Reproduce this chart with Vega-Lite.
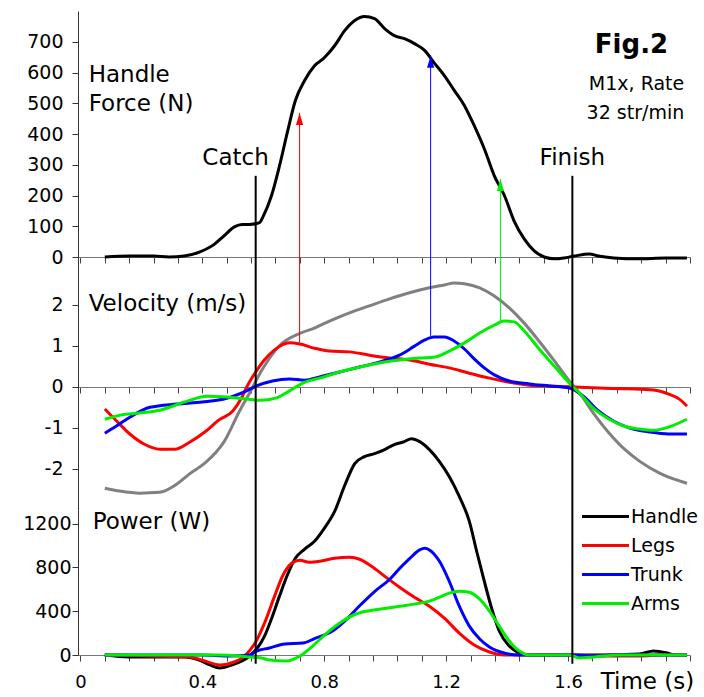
{
  "$schema": "https://vega.github.io/schema/vega-lite/v6.json",
  "padding": {"left": 8, "top": 10, "right": 0, "bottom": 0},
  "background": "white",
  "spacing": 0,
  "bounds": "flush",
  "config": {
    "view": {"stroke": null},
    "font": "DejaVu Sans",
    "axis": {"labelFont": "DejaVu Sans", "labelFontSize": 18, "labelColor": "black", "grid": false, "tickColor": "#444", "domainColor": "#777", "tickSize": 6, "labelPadding": 3, "labelOverlap": false, "tickCount": 100},
    "axisY": {"minExtent": 70, "maxExtent": 70, "tickSize": 6, "labelPadding": 9, "labelFontSize": 19, "domainColor": "#333", "tickColor": "#333", "labelOverlap": false, "labelExpr": "datum.value < 0 ? '-' + abs(datum.value) : '' + datum.value"},
    "text": {"font": "DejaVu Sans", "color": "black"}
  },
  "resolve": {"scale": {"color": "independent"}},
  "datasets": {
    "force": [
      {"t":0.08,"F":0},{"t":0.16,"F":3},{"t":0.24,"F":3},{"t":0.29,"F":0},{"t":0.34,"F":3},{"t":0.39,"F":16},{"t":0.44,"F":42},{"t":0.47,"F":68},{"t":0.505,"F":98},{"t":0.53,"F":106},{"t":0.555,"F":106},{"t":0.588,"F":112},{"t":0.6,"F":133},{"t":0.627,"F":200},{"t":0.653,"F":296},{"t":0.68,"F":410},{"t":0.705,"F":508},{"t":0.735,"F":573},{"t":0.768,"F":622},{"t":0.8,"F":648},{"t":0.834,"F":687},{"t":0.867,"F":736},{"t":0.9,"F":769},{"t":0.932,"F":782},{"t":0.965,"F":775},{"t":0.998,"F":743},{"t":1.03,"F":720},{"t":1.063,"F":710},{"t":1.096,"F":694},{"t":1.13,"F":671},{"t":1.16,"F":632},{"t":1.194,"F":590},{"t":1.227,"F":541},{"t":1.26,"F":492},{"t":1.292,"F":427},{"t":1.325,"F":352},{"t":1.358,"F":264},{"t":1.391,"F":200},{"t":1.423,"F":117},{"t":1.456,"F":59},{"t":1.489,"F":20},{"t":1.522,"F":0},{"t":1.555,"F":-6},{"t":1.587,"F":-3},{"t":1.62,"F":3},{"t":1.67,"F":10},{"t":1.7,"F":3},{"t":1.75,"F":-3},{"t":1.83,"F":-6},{"t":1.92,"F":-3},{"t":1.99,"F":-3}
    ],
    "vel": [
      {"series":"Handle","t":0.08,"v":-2.47},{"series":"Handle","t":0.129,"v":-2.54},{"series":"Handle","t":0.195,"v":-2.59},{"series":"Handle","t":0.26,"v":-2.57},{"series":"Handle","t":0.31,"v":-2.4},{"series":"Handle","t":0.358,"v":-2.12},{"series":"Handle","t":0.408,"v":-1.86},{"series":"Handle","t":0.472,"v":-1.33},{"series":"Handle","t":0.522,"v":-0.59},{"series":"Handle","t":0.555,"v":-0.15},{"series":"Handle","t":0.594,"v":0.39},{"series":"Handle","t":0.653,"v":1.0},{"series":"Handle","t":0.72,"v":1.3},{"series":"Handle","t":0.768,"v":1.43},{"series":"Handle","t":0.817,"v":1.6},{"series":"Handle","t":0.883,"v":1.8},{"series":"Handle","t":0.948,"v":1.97},{"series":"Handle","t":1.014,"v":2.14},{"series":"Handle","t":1.08,"v":2.29},{"series":"Handle","t":1.145,"v":2.41},{"series":"Handle","t":1.194,"v":2.48},{"series":"Handle","t":1.227,"v":2.53},{"series":"Handle","t":1.26,"v":2.51},{"series":"Handle","t":1.31,"v":2.41},{"series":"Handle","t":1.358,"v":2.21},{"series":"Handle","t":1.407,"v":1.92},{"series":"Handle","t":1.456,"v":1.55},{"series":"Handle","t":1.505,"v":1.11},{"series":"Handle","t":1.555,"v":0.63},{"series":"Handle","t":1.604,"v":0.14},{"series":"Handle","t":1.637,"v":-0.15},{"series":"Handle","t":1.686,"v":-0.67},{"series":"Handle","t":1.735,"v":-1.13},{"series":"Handle","t":1.785,"v":-1.52},{"series":"Handle","t":1.834,"v":-1.81},{"series":"Handle","t":1.9,"v":-2.1},{"series":"Handle","t":1.948,"v":-2.25},{"series":"Handle","t":1.99,"v":-2.35},
      {"series":"Legs","t":0.08,"v":-0.54},{"series":"Legs","t":0.113,"v":-0.79},{"series":"Legs","t":0.162,"v":-1.15},{"series":"Legs","t":0.21,"v":-1.4},{"series":"Legs","t":0.26,"v":-1.52},{"series":"Legs","t":0.31,"v":-1.52},{"series":"Legs","t":0.358,"v":-1.35},{"series":"Legs","t":0.408,"v":-1.1},{"series":"Legs","t":0.456,"v":-0.8},{"series":"Legs","t":0.5,"v":-0.59},{"series":"Legs","t":0.53,"v":-0.25},{"series":"Legs","t":0.546,"v":0},{"series":"Legs","t":0.575,"v":0.36},{"series":"Legs","t":0.604,"v":0.66},{"series":"Legs","t":0.637,"v":0.9},{"series":"Legs","t":0.686,"v":1.07},{"series":"Legs","t":0.72,"v":1.04},{"series":"Legs","t":0.768,"v":0.94},{"series":"Legs","t":0.817,"v":0.87},{"series":"Legs","t":0.883,"v":0.85},{"series":"Legs","t":0.948,"v":0.77},{"series":"Legs","t":1.014,"v":0.7},{"series":"Legs","t":1.08,"v":0.65},{"series":"Legs","t":1.145,"v":0.55},{"series":"Legs","t":1.21,"v":0.46},{"series":"Legs","t":1.276,"v":0.33},{"series":"Legs","t":1.342,"v":0.21},{"series":"Legs","t":1.407,"v":0.11},{"series":"Legs","t":1.473,"v":0.04},{"series":"Legs","t":1.538,"v":0.02},{"series":"Legs","t":1.604,"v":0},{"series":"Legs","t":1.7,"v":-0.03},{"series":"Legs","t":1.8,"v":-0.05},{"series":"Legs","t":1.88,"v":-0.08},{"series":"Legs","t":1.93,"v":-0.18},{"series":"Legs","t":1.965,"v":-0.3},{"series":"Legs","t":1.99,"v":-0.47},
      {"series":"Trunk","t":0.08,"v":-1.13},{"series":"Trunk","t":0.113,"v":-0.98},{"series":"Trunk","t":0.162,"v":-0.74},{"series":"Trunk","t":0.228,"v":-0.5},{"series":"Trunk","t":0.316,"v":-0.42},{"series":"Trunk","t":0.4,"v":-0.37},{"series":"Trunk","t":0.48,"v":-0.28},{"series":"Trunk","t":0.545,"v":-0.1},{"series":"Trunk","t":0.578,"v":0.02},{"series":"Trunk","t":0.63,"v":0.14},{"series":"Trunk","t":0.686,"v":0.19},{"series":"Trunk","t":0.735,"v":0.16},{"series":"Trunk","t":0.785,"v":0.24},{"series":"Trunk","t":0.85,"v":0.36},{"series":"Trunk","t":0.916,"v":0.48},{"series":"Trunk","t":0.98,"v":0.6},{"series":"Trunk","t":1.047,"v":0.77},{"series":"Trunk","t":1.096,"v":0.99},{"series":"Trunk","t":1.13,"v":1.14},{"series":"Trunk","t":1.16,"v":1.21},{"series":"Trunk","t":1.194,"v":1.21},{"series":"Trunk","t":1.227,"v":1.11},{"series":"Trunk","t":1.26,"v":0.92},{"series":"Trunk","t":1.292,"v":0.68},{"series":"Trunk","t":1.325,"v":0.46},{"series":"Trunk","t":1.358,"v":0.29},{"series":"Trunk","t":1.407,"v":0.14},{"series":"Trunk","t":1.473,"v":0.07},{"series":"Trunk","t":1.538,"v":0.02},{"series":"Trunk","t":1.604,"v":-0.03},{"series":"Trunk","t":1.65,"v":-0.23},{"series":"Trunk","t":1.7,"v":-0.59},{"series":"Trunk","t":1.75,"v":-0.84},{"series":"Trunk","t":1.8,"v":-1.0},{"series":"Trunk","t":1.866,"v":-1.1},{"series":"Trunk","t":1.93,"v":-1.15},{"series":"Trunk","t":1.99,"v":-1.15},
      {"series":"Arms","t":0.08,"v":-0.79},{"series":"Arms","t":0.13,"v":-0.69},{"series":"Arms","t":0.195,"v":-0.64},{"series":"Arms","t":0.26,"v":-0.57},{"series":"Arms","t":0.35,"v":-0.35},{"series":"Arms","t":0.415,"v":-0.23},{"series":"Arms","t":0.48,"v":-0.25},{"series":"Arms","t":0.545,"v":-0.3},{"series":"Arms","t":0.588,"v":-0.33},{"series":"Arms","t":0.644,"v":-0.27},{"series":"Arms","t":0.686,"v":-0.1},{"series":"Arms","t":0.735,"v":0.11},{"series":"Arms","t":0.785,"v":0.21},{"series":"Arms","t":0.85,"v":0.36},{"series":"Arms","t":0.916,"v":0.48},{"series":"Arms","t":0.98,"v":0.58},{"series":"Arms","t":1.047,"v":0.65},{"series":"Arms","t":1.113,"v":0.7},{"series":"Arms","t":1.16,"v":0.72},{"series":"Arms","t":1.21,"v":0.87},{"series":"Arms","t":1.26,"v":1.07},{"series":"Arms","t":1.31,"v":1.31},{"series":"Arms","t":1.358,"v":1.5},{"series":"Arms","t":1.39,"v":1.6},{"series":"Arms","t":1.423,"v":1.58},{"series":"Arms","t":1.456,"v":1.36},{"series":"Arms","t":1.505,"v":0.92},{"series":"Arms","t":1.555,"v":0.5},{"series":"Arms","t":1.604,"v":0.09},{"series":"Arms","t":1.637,"v":-0.15},{"series":"Arms","t":1.686,"v":-0.54},{"series":"Arms","t":1.735,"v":-0.79},{"series":"Arms","t":1.785,"v":-0.96},{"series":"Arms","t":1.834,"v":-1.03},{"series":"Arms","t":1.88,"v":-1.06},{"series":"Arms","t":1.93,"v":-0.98},{"series":"Arms","t":1.99,"v":-0.79}
    ],
    "power": [
      {"series":"Handle","t":0.08,"P":0},{"series":"Handle","t":0.16,"P":-18},{"series":"Handle","t":0.26,"P":-18},{"series":"Handle","t":0.34,"P":-18},{"series":"Handle","t":0.39,"P":-46},{"series":"Handle","t":0.425,"P":-91},{"series":"Handle","t":0.457,"P":-118},{"series":"Handle","t":0.496,"P":-91},{"series":"Handle","t":0.53,"P":-55},{"series":"Handle","t":0.555,"P":-9},{"series":"Handle","t":0.578,"P":55},{"series":"Handle","t":0.604,"P":173},{"series":"Handle","t":0.63,"P":355},{"series":"Handle","t":0.653,"P":538},{"series":"Handle","t":0.68,"P":738},{"series":"Handle","t":0.705,"P":884},{"series":"Handle","t":0.735,"P":966},{"series":"Handle","t":0.768,"P":1039},{"series":"Handle","t":0.8,"P":1157},{"series":"Handle","t":0.834,"P":1312},{"series":"Handle","t":0.867,"P":1549},{"series":"Handle","t":0.9,"P":1749},{"series":"Handle","t":0.932,"P":1813},{"series":"Handle","t":0.965,"P":1840},{"series":"Handle","t":0.998,"P":1877},{"series":"Handle","t":1.03,"P":1923},{"series":"Handle","t":1.063,"P":1950},{"series":"Handle","t":1.086,"P":1977},{"series":"Handle","t":1.113,"P":1950},{"series":"Handle","t":1.145,"P":1877},{"series":"Handle","t":1.178,"P":1768},{"series":"Handle","t":1.21,"P":1631},{"series":"Handle","t":1.243,"P":1449},{"series":"Handle","t":1.276,"P":1221},{"series":"Handle","t":1.3,"P":948},{"series":"Handle","t":1.325,"P":674},{"series":"Handle","t":1.35,"P":419},{"series":"Handle","t":1.374,"P":219},{"series":"Handle","t":1.407,"P":82},{"series":"Handle","t":1.44,"P":18},{"series":"Handle","t":1.473,"P":0},{"series":"Handle","t":1.604,"P":0},{"series":"Handle","t":1.7,"P":0},{"series":"Handle","t":1.834,"P":9},{"series":"Handle","t":1.88,"P":36},{"series":"Handle","t":1.925,"P":18},{"series":"Handle","t":1.95,"P":0},{"series":"Handle","t":1.99,"P":0},
      {"series":"Legs","t":0.08,"P":0},{"series":"Legs","t":0.228,"P":-9},{"series":"Legs","t":0.358,"P":-18},{"series":"Legs","t":0.408,"P":-55},{"series":"Legs","t":0.457,"P":-91},{"series":"Legs","t":0.505,"P":-64},{"series":"Legs","t":0.539,"P":-9},{"series":"Legs","t":0.571,"P":100},{"series":"Legs","t":0.604,"P":292},{"series":"Legs","t":0.637,"P":538},{"series":"Legs","t":0.663,"P":720},{"series":"Legs","t":0.693,"P":838},{"series":"Legs","t":0.72,"P":866},{"series":"Legs","t":0.75,"P":847},{"series":"Legs","t":0.785,"P":856},{"series":"Legs","t":0.834,"P":884},{"series":"Legs","t":0.883,"P":893},{"series":"Legs","t":0.916,"P":875},{"series":"Legs","t":0.955,"P":811},{"series":"Legs","t":0.998,"P":720},{"series":"Legs","t":1.047,"P":620},{"series":"Legs","t":1.096,"P":528},{"series":"Legs","t":1.145,"P":446},{"series":"Legs","t":1.194,"P":337},{"series":"Legs","t":1.243,"P":200},{"series":"Legs","t":1.292,"P":91},{"series":"Legs","t":1.342,"P":27},{"series":"Legs","t":1.39,"P":0},{"series":"Legs","t":1.604,"P":0},{"series":"Legs","t":1.7,"P":-9},{"series":"Legs","t":1.834,"P":-9},{"series":"Legs","t":1.915,"P":0},{"series":"Legs","t":1.99,"P":0},
      {"series":"Trunk","t":0.08,"P":0},{"series":"Trunk","t":0.39,"P":0},{"series":"Trunk","t":0.49,"P":-9},{"series":"Trunk","t":0.555,"P":0},{"series":"Trunk","t":0.578,"P":36},{"series":"Trunk","t":0.62,"P":64},{"series":"Trunk","t":0.67,"P":100},{"series":"Trunk","t":0.73,"P":109},{"series":"Trunk","t":0.768,"P":150},{"series":"Trunk","t":0.827,"P":219},{"series":"Trunk","t":0.867,"P":310},{"series":"Trunk","t":0.916,"P":450},{"series":"Trunk","t":0.965,"P":580},{"series":"Trunk","t":1.014,"P":690},{"series":"Trunk","t":1.047,"P":790},{"series":"Trunk","t":1.08,"P":880},{"series":"Trunk","t":1.113,"P":960},{"series":"Trunk","t":1.13,"P":975},{"series":"Trunk","t":1.145,"P":960},{"series":"Trunk","t":1.178,"P":856},{"series":"Trunk","t":1.21,"P":674},{"series":"Trunk","t":1.243,"P":446},{"series":"Trunk","t":1.276,"P":264},{"series":"Trunk","t":1.31,"P":146},{"series":"Trunk","t":1.342,"P":73},{"series":"Trunk","t":1.39,"P":18},{"series":"Trunk","t":1.44,"P":0},{"series":"Trunk","t":1.604,"P":0},{"series":"Trunk","t":1.686,"P":-9},{"series":"Trunk","t":1.767,"P":0},{"series":"Trunk","t":1.99,"P":0},
      {"series":"Arms","t":0.08,"P":0},{"series":"Arms","t":0.457,"P":0},{"series":"Arms","t":0.555,"P":-18},{"series":"Arms","t":0.594,"P":-27},{"series":"Arms","t":0.62,"P":-46},{"series":"Arms","t":0.676,"P":-55},{"series":"Arms","t":0.72,"P":-9},{"series":"Arms","t":0.762,"P":82},{"series":"Arms","t":0.8,"P":180},{"series":"Arms","t":0.85,"P":290},{"series":"Arms","t":0.9,"P":370},{"series":"Arms","t":0.948,"P":405},{"series":"Arms","t":0.998,"P":425},{"series":"Arms","t":1.047,"P":446},{"series":"Arms","t":1.096,"P":465},{"series":"Arms","t":1.145,"P":492},{"series":"Arms","t":1.178,"P":528},{"series":"Arms","t":1.21,"P":565},{"series":"Arms","t":1.243,"P":583},{"series":"Arms","t":1.276,"P":574},{"series":"Arms","t":1.31,"P":510},{"series":"Arms","t":1.342,"P":401},{"series":"Arms","t":1.374,"P":264},{"series":"Arms","t":1.407,"P":128},{"series":"Arms","t":1.44,"P":36},{"series":"Arms","t":1.473,"P":0},{"series":"Arms","t":1.604,"P":0},{"series":"Arms","t":1.637,"P":-27},{"series":"Arms","t":1.686,"P":-18},{"series":"Arms","t":1.767,"P":0},{"series":"Arms","t":1.99,"P":0}
    ],
    "events": [{"t":0.575,"label":"Catch"},{"t":1.614,"label":"Finish"}],
    "eventText": [{"t":0.509,"val":322,"label":"Catch"},{"t":1.614,"val":322,"label":"Finish"}],
    "arrows": [
      {"series":"Legs","t":0.719,"Ftip":469,"Fhead":449,"v":1.07},
      {"series":"Trunk","t":1.149,"Ftip":655,"Fhead":635,"v":1.24},
      {"series":"Arms","t":1.378,"Ftip":254,"Fhead":234,"v":1.6}
    ],
    "forceText": [{"t":0.027,"val":593,"label":"Handle"},{"t":0.027,"val":498,"label":"Force (N)"}],
    "figText": [{"t":1.808,"val":690,"label":"Fig.2"}],
    "rateText": [{"t":1.981,"val":563,"label":"M1x, Rate"},{"t":1.981,"val":469,"label":"32 str/min"}],
    "velText": [{"t":0.027,"val":2.02,"label":"Velocity (m/s)"}],
    "powText": [{"t":0.04,"val":1212,"label":"Power (W)"}]
  },
  "vconcat": [
    {
      "width": 612,
      "height": 246,
      "layer": [
        {
          "data": {"name": "force"},
          "mark": {"type": "line", "color": "black", "strokeWidth": 3, "interpolate": "monotone"},
          "encoding": {
            "x": {"field": "t", "type": "quantitative", "scale": {"domain": [-0.008, 2.0], "nice": false, "zero": false},
                  "axis": {"orient": "bottom", "labels": false, "title": null, "tickCount": 100, "values": [0,0.08,0.16,0.24,0.32,0.4,0.48,0.56,0.64,0.72,0.8,0.88,0.96,1.04,1.12,1.2,1.28,1.36,1.44,1.52,1.6,1.68,1.76,1.84,1.92,2.0]}},
            "y": {"field": "F", "type": "quantitative", "scale": {"domain": [0, 800], "nice": false}, "axis": {"values": [0,100,200,300,400,500,600,700], "tickCount": 100, "title": null, "labelOverlap": false}}
          }
        },
        {
          "data": {"name": "arrows"},
          "mark": {"type": "rule", "strokeWidth": 1},
          "encoding": {
            "x": {"field": "t", "type": "quantitative"},
            "y": {"field": "Ftip", "type": "quantitative"},
            "y2": {"datum": 0},
            "color": {"field": "series", "type": "nominal", "scale": {"domain": ["Legs","Trunk","Arms"], "range": ["#ff0000","#0000ff","#00ee00"]}, "legend": null}
          }
        },
        {
          "data": {"name": "arrows"},
          "mark": {"type": "point", "shape": "M0,-1L0.6,1L-0.6,1Z", "filled": true, "size": 144, "opacity": 1},
          "encoding": {
            "x": {"field": "t", "type": "quantitative"},
            "y": {"field": "Fhead", "type": "quantitative"},
            "color": {"field": "series", "type": "nominal", "legend": null}
          }
        },
        {
          "data": {"name": "events"},
          "mark": {"type": "rule", "strokeWidth": 2, "color": "black"},
          "encoding": {
            "x": {"field": "t", "type": "quantitative"},
            "y": {"datum": 264},
            "y2": {"datum": 0}
          }
        },
        {
          "data": {"name": "eventText"},
          "mark": {"type": "text", "fontSize": 23, "align": "center", "baseline": "middle"},
          "encoding": {
            "x": {"field": "t", "type": "quantitative"},
            "y": {"field": "val", "type": "quantitative"},
            "text": {"field": "label"}
          }
        },
        {
          "data": {"name": "forceText"},
          "mark": {"type": "text", "fontSize": 23, "align": "left", "baseline": "middle"},
          "encoding": {
            "x": {"field": "t", "type": "quantitative"},
            "y": {"field": "val", "type": "quantitative"},
            "text": {"field": "label"}
          }
        },
        {
          "data": {"name": "figText"},
          "mark": {"type": "text", "fontSize": 26, "fontWeight": "bold", "align": "center", "baseline": "middle"},
          "encoding": {
            "x": {"field": "t", "type": "quantitative"},
            "y": {"field": "val", "type": "quantitative"},
            "text": {"field": "label"}
          }
        },
        {
          "data": {"name": "rateText"},
          "mark": {"type": "text", "fontSize": 19, "align": "right", "baseline": "middle"},
          "encoding": {
            "x": {"field": "t", "type": "quantitative"},
            "y": {"field": "val", "type": "quantitative"},
            "text": {"field": "label"}
          }
        }
      ]
    },
    {
      "width": 612,
      "height": 253,
      "layer": [
        {
          "data": {"name": "vel"},
          "mark": {"type": "line", "strokeWidth": 3, "interpolate": "monotone"},
          "encoding": {
            "x": {"field": "t", "type": "quantitative", "scale": {"domain": [-0.008, 2.0], "nice": false, "zero": false},
                  "axis": {"orient": "bottom", "offset": -123, "labels": false, "title": null, "tickCount": 100, "values": [0,0.08,0.16,0.24,0.32,0.4,0.48,0.56,0.64,0.72,0.8,0.88,0.96,1.04,1.12,1.2,1.28,1.36,1.44,1.52,1.6,1.68,1.76,1.84,1.92,2.0]}},
            "y": {"field": "v", "type": "quantitative", "scale": {"domain": [-3.0, 3.16], "nice": false, "zero": false}, "axis": {"values": [-2,-1,0,1,2], "tickCount": 100, "title": null, "labelOverlap": false}},
            "color": {"field": "series", "type": "nominal", "scale": {"domain": ["Handle","Legs","Trunk","Arms"], "range": ["#808080","#ff0000","#0000ff","#00ee00"]}, "legend": null}
          }
        },
        {
          "data": {"name": "arrows"},
          "mark": {"type": "rule", "strokeWidth": 1},
          "encoding": {
            "x": {"field": "t", "type": "quantitative"},
            "y": {"field": "v", "type": "quantitative"},
            "y2": {"datum": 3.16},
            "color": {"field": "series", "type": "nominal", "legend": null}
          }
        },
        {
          "data": {"name": "events"},
          "mark": {"type": "rule", "strokeWidth": 2, "color": "black"},
          "encoding": {
            "x": {"field": "t", "type": "quantitative"},
            "y": {"datum": 3.16},
            "y2": {"datum": -3.0}
          }
        },
        {
          "data": {"name": "velText"},
          "mark": {"type": "text", "fontSize": 23, "align": "left", "baseline": "middle"},
          "encoding": {
            "x": {"field": "t", "type": "quantitative"},
            "y": {"field": "val", "type": "quantitative"},
            "text": {"field": "label"}
          }
        }
      ]
    },
    {
      "width": 612,
      "height": 145,
      "layer": [
        {
          "data": {"name": "power"},
          "mark": {"type": "line", "strokeWidth": 3, "interpolate": "monotone"},
          "encoding": {
            "x": {"field": "t", "type": "quantitative", "scale": {"domain": [-0.008, 2.0], "nice": false, "zero": false},
                  "axis": {"orient": "bottom", "title": "Time (s)", "tickCount": 100, "values": [0,0.08,0.16,0.24,0.32,0.4,0.48,0.56,0.64,0.72,0.8,0.88,0.96,1.04,1.12,1.2,1.28,1.36,1.44,1.52,1.6,1.68,1.76,1.84,1.92,2.0],
                           "labelExpr": "abs(datum.value/0.4 - round(datum.value/0.4)) < 0.01 && datum.value < 1.7 ? format(datum.value, '~g') : ''",
                           "labelFlush": false, "labelOverlap": false, "labelBound": false, "labelPadding": 12,
                           "titleFont": "DejaVu Sans", "titleFontSize": 23, "titleFontWeight": "normal", "titleColor": "black",
                           "titleX": 569, "titleY": 26, "titleAlign": "center", "titleBaseline": "middle"}},
            "y": {"field": "P", "type": "quantitative", "scale": {"domain": [0, 1325], "nice": false}, "axis": {"values": [0,400,800,1200], "tickCount": 100, "title": null, "labelOverlap": false, "labelPadding": 1}},
            "color": {"field": "series", "type": "nominal", "scale": {"domain": ["Handle","Legs","Trunk","Arms"], "range": ["#000000","#ff0000","#0000ff","#00ee00"]},
                      "legend": {"orient": "none", "legendX": 509, "legendY": -12, "title": null, "symbolType": "M-1.41,0H1.41", "symbolStrokeWidth": 3, "symbolSize": 1110, "labelFontSize": 19, "labelFont": "DejaVu Sans", "labelColor": "black", "rowPadding": 0, "labelOffset": 7, "padding": 0}}
          }
        },
        {
          "data": {"name": "events"},
          "mark": {"type": "rule", "strokeWidth": 2, "color": "black"},
          "encoding": {
            "x": {"field": "t", "type": "quantitative"},
            "y": {"datum": 1325},
            "y2": {"datum": -80}
          }
        },
        {
          "data": {"name": "powText"},
          "mark": {"type": "text", "fontSize": 23, "align": "left", "baseline": "middle"},
          "encoding": {
            "x": {"field": "t", "type": "quantitative"},
            "y": {"field": "val", "type": "quantitative"},
            "text": {"field": "label"}
          }
        }
      ]
    }
  ]
}
